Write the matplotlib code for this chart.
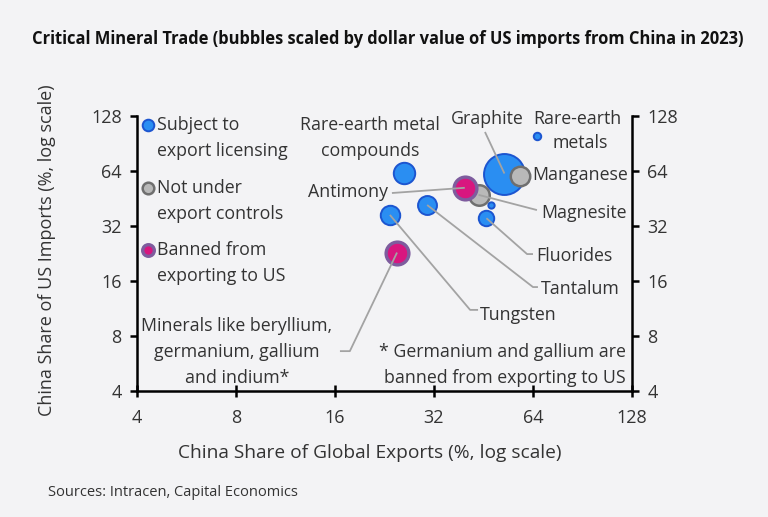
import numpy as np
import matplotlib.pyplot as plt

plt.rcParams['font.family'] = ['Open Sans', 'DejaVu Sans']

# Bubble data
minerals = ["Graphite", "Magnesite", "Antimony", "Manganese", "Rare-earth metal compounds",
            "Rare-earth metals", "Other (small)", "Fluorides", "Tantalum", "Tungsten",
            "Beryllium, germanium, gallium, indium"]
export_share = [52.4, 43.7, 39.7, 58.6, 25.9, 65.9, 47.6, 46.2, 30.5, 23.5, 24.7]
import_share = [62.0, 47.4, 51.8, 60.4, 62.7, 99.0, 41.7, 35.3, 41.7, 36.8, 22.9]
# relative dollar value of US imports from China (bubble area)
import_value = [420, 105, 130, 95, 115, 14, 10, 60, 90, 95, 130]
status = ["licensing", "none", "banned", "none", "licensing", "licensing", "licensing",
          "licensing", "licensing", "licensing", "banned"]

ticks = [4, 8, 16, 32, 64, 128]

bg = "#f3f3f5"
txt = "#333333"
fills = {"licensing": "#2a8ef2", "none": "#b9b9b9", "banned": "#d8167f"}
edges = {"licensing": "#1c55d0", "none": "#6f6f6f", "banned": "#7e5c9e"}
edge_w = {"licensing": 1.4, "none": 1.8, "banned": 2.4}

fig = plt.figure(figsize=(7.68, 5.17), dpi=100, facecolor=bg)
ax = fig.add_axes([0.1784, 0.2437, 0.6445, 0.5319], facecolor=bg)
ax.set_xscale('log', base=2)
ax.set_yscale('log', base=2)
ax.set_xlim(4, 128)
ax.set_ylim(4, 128)


def frac(fx, fy):
    # axes fraction -> data coords on the log axes
    return 4 * 32 ** fx, 4 * 32 ** fy


line_c = "#a3a3a3"
leaders = {
    0: [(0.703, 0.942)],
    2: [(0.515, 0.720)],
    1: [(0.808, 0.658)],
    7: [(0.788, 0.498), (0.800, 0.498)],
    8: [(0.800, 0.378), (0.810, 0.378)],
    9: [(0.673, 0.295), (0.689, 0.295)],
    10: [(0.430, 0.145), (0.410, 0.145)],
}

for i in range(len(minerals)):
    ax.scatter(export_share[i], import_share[i], s=import_value[i] * 2.07,
               color=fills[status[i]], edgecolor=edges[status[i]],
               linewidth=edge_w[status[i]], zorder=3)

for i, pts in leaders.items():
    xs = [export_share[i]] + [frac(*p)[0] for p in pts]
    ys = [import_share[i]] + [frac(*p)[1] for p in pts]
    ax.plot(xs, ys, color=line_c, lw=1.3, zorder=4, solid_capstyle='butt')

# labels
fs = 12.8
kw = dict(transform=ax.transAxes, color=txt, fontsize=fs, linespacing=1.55)
ax.text(0.471, 0.92, "Rare-earth metal\ncompounds", ha='center', va='center', **kw)
ax.text(0.707, 0.99, "Graphite", ha='center', va='center', **kw)
ax.text(0.889, 0.99, "Rare-earth", ha='center', va='center', **kw)
ax.text(0.895, 0.903, "metals", ha='center', va='center', **kw)
ax.text(0.798, 0.785, "Manganese", ha='left', va='center', **kw)
ax.text(0.508, 0.724, "Antimony", ha='right', va='center', **kw)
ax.text(0.816, 0.647, "Magnesite", ha='left', va='center', **kw)
ax.text(0.806, 0.490, "Fluorides", ha='left', va='center', **kw)
ax.text(0.816, 0.371, "Tantalum", ha='left', va='center', **kw)
ax.text(0.693, 0.276, "Tungsten", ha='left', va='center', **kw)
ax.text(0.202, 0.142, "Minerals like beryllium,\ngermanium, gallium\nand indium*",
        ha='center', va='center', **kw)
ax.text(0.988, 0.095, "* Germanium and gallium are\nbanned from exporting to US",
        ha='right', va='center', **kw)

# legend
legend_items = [("licensing", "Subject to\nexport licensing", 0.967),
                ("none", "Not under\nexport controls", 0.738),
                ("banned", "Banned from\nexporting to US", 0.513)]
for key, label, fy in legend_items:
    ax.scatter(0.022, fy, s=70, color=fills[key], edgecolor=edges[key],
               linewidth=edge_w[key], transform=ax.transAxes, zorder=3, clip_on=False)
    ax.text(0.040, fy - 0.048, label, ha='left', va='center', transform=ax.transAxes,
            color=txt, fontsize=fs, linespacing=1.55)

# axes styling
for side in ['left', 'right', 'bottom']:
    ax.spines[side].set_linewidth(1.8)
    ax.spines[side].set_color('black')
ax.spines['top'].set_visible(False)
ax.set_xticks(ticks)
ax.set_yticks(ticks)
ax.set_xticklabels([str(t) for t in ticks])
ax.set_yticklabels([str(t) for t in ticks])
ax.minorticks_off()
ax.tick_params(axis='x', direction='inout', length=8, width=1.8, labelsize=13,
               labelcolor=txt, pad=9)
ax.tick_params(axis='y', direction='out', length=5, width=1.8, labelsize=13,
               labelcolor=txt, right=True, labelright=True, pad=6)

ax.set_xlabel("China Share of Global Exports (%, log scale)", fontsize=13.8, color=txt)
ax.xaxis.set_label_coords(0.471, -0.193)
ax.set_ylabel("China Share of US Imports (%, log scale)", fontsize=13, color=txt)
ax.yaxis.set_label_coords(-0.164, 0.513)

fig.text(0.505, 0.925, "Critical Mineral Trade (bubbles scaled by dollar value of US imports from China in 2023)",
         ha='center', va='center', fontsize=11.9, fontweight='bold', color='#111111')
fig.text(0.0625, 0.048, "Sources: Intracen, Capital Economics", ha='left', va='center',
         fontsize=10.5, color=txt)

fig.savefig("out.png", dpi=100, facecolor=bg)
